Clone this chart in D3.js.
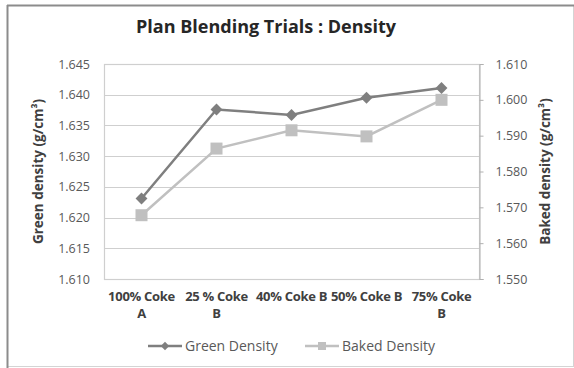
<!DOCTYPE html>
<html>
<head>
<meta charset="utf-8">
<script src="https://cdn.jsdelivr.net/npm/d3@7"></script>
<style>
  html, body { margin: 0; padding: 0; background: #fff; }
  svg { display: block; }
  text { font-family: "Open Sans", "Liberation Sans", sans-serif; }
</style>
</head>
<body>
<svg id="chart" width="574" height="368"></svg>
<script>
// Blend trials and their measured densities
const categories = ["100% Coke A", "25 % Coke B", "40% Coke B", "50% Coke B", "75% Coke B"];
const categoryLines = [["100% Coke", "A"], ["25 % Coke", "B"], ["40% Coke B"], ["50% Coke B"], ["75% Coke", "B"]];
const greenDensity = [1.6231, 1.6376, 1.6367, 1.6395, 1.6411];
const bakedDensity = [1.5678, 1.5864, 1.5915, 1.5898, 1.6000];
const greenTicks = [1.610, 1.615, 1.620, 1.625, 1.630, 1.635, 1.640, 1.645];
const bakedTicks = [1.550, 1.560, 1.570, 1.580, 1.590, 1.600, 1.610];

const svg = d3.select("#chart");
const W = 574, H = 368;
const plot = { left: 104, right: 479, top: 64, bottom: 279 };

// chart frame
svg.append("rect").attr("x", 7.5).attr("y", 5.5).attr("width", W - 8).attr("height", H - 7)
  .attr("fill", "#fff").attr("stroke", "#d4d4d4").attr("stroke-width", 1);
svg.append("line").attr("x1", 7).attr("x2", W).attr("y1", 5.5).attr("y2", 5.5)
  .attr("stroke", "#8c8c8c").attr("stroke-width", 2);
svg.append("line").attr("x1", 7.5).attr("x2", 7.5).attr("y1", 5).attr("y2", H)
  .attr("stroke", "#8c8c8c").attr("stroke-width", 2);

const x = d3.scalePoint().domain(categories).range([plot.left, plot.right]).padding(0.5);
const yG = d3.scaleLinear().domain([1.610, 1.645]).range([plot.bottom, plot.top]);
const yB = d3.scaleLinear().domain([1.550, 1.610]).range([plot.bottom, plot.top]);

// plot border and gridlines
svg.append("rect").attr("x", plot.left + 0.5).attr("y", plot.top + 0.5)
  .attr("width", plot.right - plot.left).attr("height", plot.bottom - plot.top)
  .attr("fill", "none").attr("stroke", "#cfcfcf").attr("stroke-width", 1.2);
svg.append("g").selectAll("line").data(greenTicks.slice(1, -1)).join("line")
  .attr("x1", plot.left).attr("x2", plot.right)
  .attr("y1", d => Math.round(yG(d)) + 0.5).attr("y2", d => Math.round(yG(d)) + 0.5)
  .attr("stroke", "#cfcfcf").attr("stroke-width", 1.2);

// left axis
const leftAxis = svg.append("g").attr("transform", `translate(${plot.left},0)`)
  .call(d3.axisLeft(yG).tickValues(greenTicks).tickFormat(d3.format(".3f")).tickSize(0).tickPadding(14));
leftAxis.select(".domain").remove();
leftAxis.selectAll("text").attr("fill", "#595959").style("font-size", "12.5px")
  .style("font-family", "'Open Sans', sans-serif");

// right axis
const rightAxis = svg.append("g").attr("transform", `translate(${plot.right + 0.5},0)`)
  .call(d3.axisRight(yB).tickValues(bakedTicks).tickFormat(d3.format(".3f")).tickSize(4).tickPadding(12));
rightAxis.select(".domain").attr("stroke", "#b0b0b0");
rightAxis.selectAll(".tick line").attr("stroke", "#b0b0b0");
rightAxis.selectAll("text").attr("fill", "#595959").style("font-size", "12.5px")
  .style("font-family", "'Open Sans', sans-serif");

// axis titles
svg.append("text").attr("transform", `translate(43,${(plot.top + plot.bottom) / 2}) rotate(-90)`)
  .attr("text-anchor", "middle").attr("fill", "#404040").attr("font-weight", "bold")
  .style("font-size", "13.5px").text("Green density (g/cm³)");
svg.append("text").attr("transform", `translate(550,${(plot.top + plot.bottom) / 2}) rotate(-90)`)
  .attr("text-anchor", "middle").attr("fill", "#404040").attr("font-weight", "bold")
  .style("font-size", "13.5px").text("Baked density (g/cm³)");

// category labels
const catG = svg.append("g");
categories.forEach((c, i) => {
  const t = catG.append("text").attr("x", x(c)).attr("y", 301)
    .attr("text-anchor", "middle").attr("fill", "#404040").attr("font-weight", "bold")
    .style("font-size", "13px").style("letter-spacing", "-0.3px");
  categoryLines[i].forEach((ln, j) => {
    t.append("tspan").attr("x", x(c)).attr("dy", j === 0 ? 0 : 17).text(ln);
  });
});

// title
svg.append("text").attr("x", 266).attr("y", 33).attr("text-anchor", "middle")
  .attr("fill", "#262626").attr("font-weight", "bold").style("font-size", "18px")
  .text("Plan Blending Trials : Density");

const line = d3.line();
const greenColor = "#7f7f7f", bakedColor = "#c0c0c0";

// baked series
svg.append("path")
  .attr("d", line(bakedDensity.map((v, i) => [x(categories[i]), yB(v)])))
  .attr("fill", "none").attr("stroke", bakedColor).attr("stroke-width", 2.5);
svg.append("g").selectAll("rect").data(bakedDensity).join("rect")
  .attr("x", (d, i) => x(categories[i]) - 6).attr("y", d => yB(d) - 6)
  .attr("width", 12).attr("height", 12).attr("fill", bakedColor);

// green series
svg.append("path")
  .attr("d", line(greenDensity.map((v, i) => [x(categories[i]), yG(v)])))
  .attr("fill", "none").attr("stroke", greenColor).attr("stroke-width", 2.5);
const diamond = d3.symbol().type(d3.symbolDiamond2).size(90);
svg.append("g").selectAll("path").data(greenDensity).join("path")
  .attr("transform", (d, i) => `translate(${x(categories[i])},${yG(d)})`)
  .attr("d", diamond).attr("fill", greenColor);

// legend
const leg = svg.append("g");
const legendItems = [
  { name: "Green Density", color: greenColor, x: 148, sym: "diamond" },
  { name: "Baked Density", color: bakedColor, x: 305, sym: "square" }
];
legendItems.forEach(it => {
  const ly = 346;
  leg.append("line").attr("x1", it.x).attr("x2", it.x + 34).attr("y1", ly).attr("y2", ly)
    .attr("stroke", it.color).attr("stroke-width", 2.5);
  if (it.sym === "diamond") {
    leg.append("path").attr("transform", `translate(${it.x + 17},${ly})`)
      .attr("d", d3.symbol().type(d3.symbolDiamond2).size(45)).attr("fill", it.color);
  } else {
    leg.append("rect").attr("x", it.x + 13).attr("y", ly - 4).attr("width", 8).attr("height", 8)
      .attr("fill", it.color);
  }
  leg.append("text").attr("x", it.x + 37).attr("y", ly + 5).attr("fill", "#595959")
    .style("font-size", "14px").text(it.name);
});
</script>
</body>
</html>
